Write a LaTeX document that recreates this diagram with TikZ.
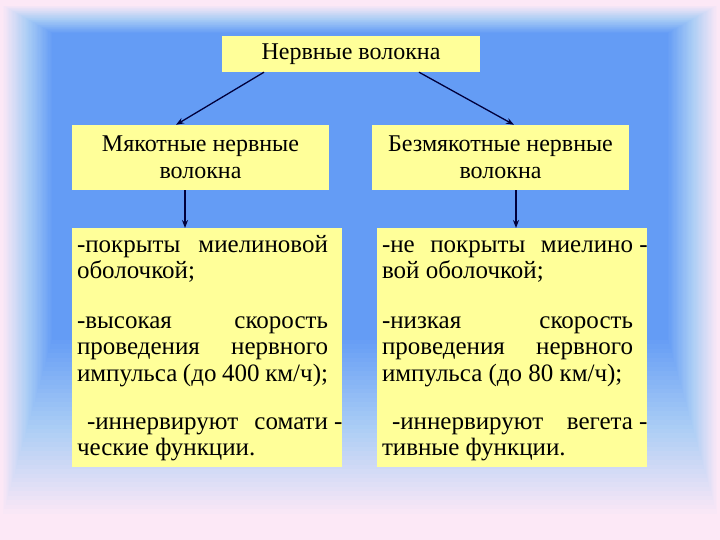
\documentclass[tikz,border=0pt]{standalone}
\usepackage{fontspec}
\setmainfont{Liberation Serif}
\usepackage{tikz}
\usetikzlibrary{arrows.meta, calc}

\definecolor{bgpink}{RGB}{252,232,246}
\definecolor{bgmid}{RGB}{170,205,245}
\definecolor{bgblue}{RGB}{100,156,245}
\definecolor{boxyellow}{RGB}{255,255,153}
\definecolor{arrowc}{RGB}{0,0,60}

\tikzset{
  box/.style={fill=boxyellow, inner sep=0pt, font=\fontsize{24}{27}\selectfont},
  headbox/.style={box, minimum width=257pt, minimum height=65pt, align=center},
  listbox/.style={box, inner xsep=5pt, inner ysep=6pt, anchor=north, font=\fontsize{25}{26.5}\selectfont},
  arr/.style={draw=arrowc, line width=1.3pt, -{Stealth[length=8pt,width=6pt]}}
}

\begin{document}
\begin{tikzpicture}[x=1pt, y=-1pt]
	\useasboundingbox (0,0) rectangle (720,540);
	% background
	\fill[bgpink] (0,0) rectangle (720,540);
	\foreach \i in {0,...,40}{
		\pgfmathsetmacro\t{\i/40}
		\ifnum\i<21
			\pgfmathtruncatemacro\p{100*\i/20}
			\colorlet{bgc}{bgmid!\p!bgpink}
		\else
			\pgfmathtruncatemacro\p{100*(\i-20)/20}
			\colorlet{bgc}{bgblue!\p!bgmid}
		\fi
		\fill[bgc] (2+50*\t, 5+28*\t) rectangle (718-50*\t, 518-178*\t);
	}

	\node[box, minimum width=258pt, minimum height=36pt] (top) at (351,54) {Нервные волокна};

	\node[headbox] (myak) at (200.5,157.5) {Мякотные нервные\\волокна};
	\node[headbox] (bez) at (500.5,157.5) {Безмякотные нервные\\волокна};

	\node[listbox] (svL) at (207,228) {\parbox{251pt}{\rule{0pt}{18pt}%
		-покрыты миелиновой\linebreak оболочкой;\\[23pt]
		-высокая скорость\linebreak проведения нервного\linebreak импульса (до 400 км/ч);\\[21.5pt]
		\hspace*{10pt}-иннервируют сомати\rlap{ -}\linebreak ческие функции.}\hspace*{9pt}};
	\node[listbox] (svR) at (512,228) {\parbox{251pt}{\rule{0pt}{18pt}%
		-не покрыты миелино\rlap{ -}\linebreak вой оболочкой;\\[23pt]
		-низкая скорость\linebreak проведения нервного\linebreak импульса (до 80 км/ч);\\[21.5pt]
		\hspace*{10pt}-иннервируют вегета\rlap{ -}\linebreak тивные функции.}\hspace*{9pt}};

	\draw[arr] ([xshift=-87pt]top.south) -- ([xshift=-24.5pt]myak.north);
	\draw[arr] ([xshift=68pt]top.south) -- ([xshift=13.5pt]bez.north);

	\coordinate (a1) at ([xshift=-15.5pt]myak.south);
	\coordinate (a2) at ([xshift=15.5pt]bez.south);
	\draw[arr] (a1) -- (a1 |- svL.north);
	\draw[arr] (a2) -- (a2 |- svR.north);
\end{tikzpicture}
\end{document}
